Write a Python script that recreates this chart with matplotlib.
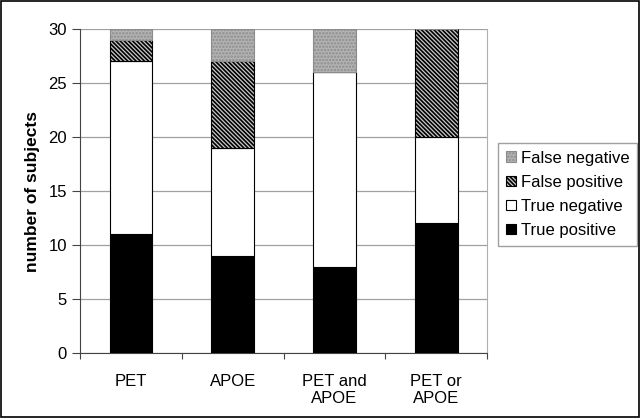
import numpy as np
import matplotlib.pyplot as plt
import matplotlib as mpl

plt.rcParams['font.family'] = ['Liberation Sans', 'DejaVu Sans']
plt.rcParams['hatch.linewidth'] = 1.2

categories = ['PET', 'APOE', 'PET and\nAPOE', 'PET or\nAPOE']
true_positive = [11, 9, 8, 12]
true_negative = [16, 10, 18, 8]
false_positive = [2, 8, 0, 10]
false_negative = [1, 3, 4, 0]

fig = plt.figure(figsize=(6.41, 4.18), dpi=100)
fig.patches.append(mpl.patches.Rectangle((0.002, 0.003), 0.995, 0.994, transform=fig.transFigure,
                                         fill=False, edgecolor='black', linewidth=1.2))
ax = fig.add_axes([0.1248, 0.1555, 0.635, 0.775])

x = np.arange(len(categories))
w = 0.42
bottom = np.zeros(len(categories))
series = [
    (true_positive, dict(color='black', edgecolor='black'), 'True positive'),
    (true_negative, dict(color='white', edgecolor='black'), 'True negative'),
    (false_positive, dict(facecolor='#c8c8c8', edgecolor='black', hatch='\\' * 8), 'False positive'),
    (false_negative, dict(facecolor='#b4b4b4', edgecolor='#8c8c8c', hatch='.....'), 'False negative'),
]
handles = []
for vals, style, label in series:
    b = ax.bar(x, vals, w, bottom=bottom, linewidth=0.8, label=label, zorder=3, **style)
    handles.append(b)
    bottom += np.array(vals)

ax.set_xlim(-0.5, len(categories) - 0.5)
ax.set_ylim(0, 30)
ax.set_yticks(range(0, 31, 5))
ax.yaxis.grid(True, color='#a0a0a0', linewidth=0.9, zorder=0)
ax.set_xticks(x)
ax.set_xticklabels(categories, fontsize=12)
ax.set_xticks(np.arange(-0.5, len(categories)), minor=True)
ax.tick_params(axis='x', which='major', length=0, pad=15)
ax.tick_params(axis='x', which='minor', length=4, width=0.8, color='#444444')
ax.tick_params(axis='y', direction='out', length=6, labelsize=12, width=0.8, color='#444444')
ax.spines['top'].set_visible(False)
ax.spines['right'].set_color('#b0b0b0')
ax.spines['left'].set_color('#444444')
ax.spines['bottom'].set_color('#444444')
ax.set_ylabel('number of subjects', fontsize=12.5, fontweight='bold', labelpad=6)

leg = ax.legend(handles[::-1], [h.get_label() for h in handles[::-1]],
                loc='center left', bbox_to_anchor=(1.027, 0.49), fontsize=12,
                frameon=True, fancybox=False, edgecolor='#888888',
                handlelength=0.6, handleheight=0.6, handletextpad=0.35,
                labelspacing=0.55, borderpad=0.45, borderaxespad=0)

fig.savefig('out.png', dpi=100)
